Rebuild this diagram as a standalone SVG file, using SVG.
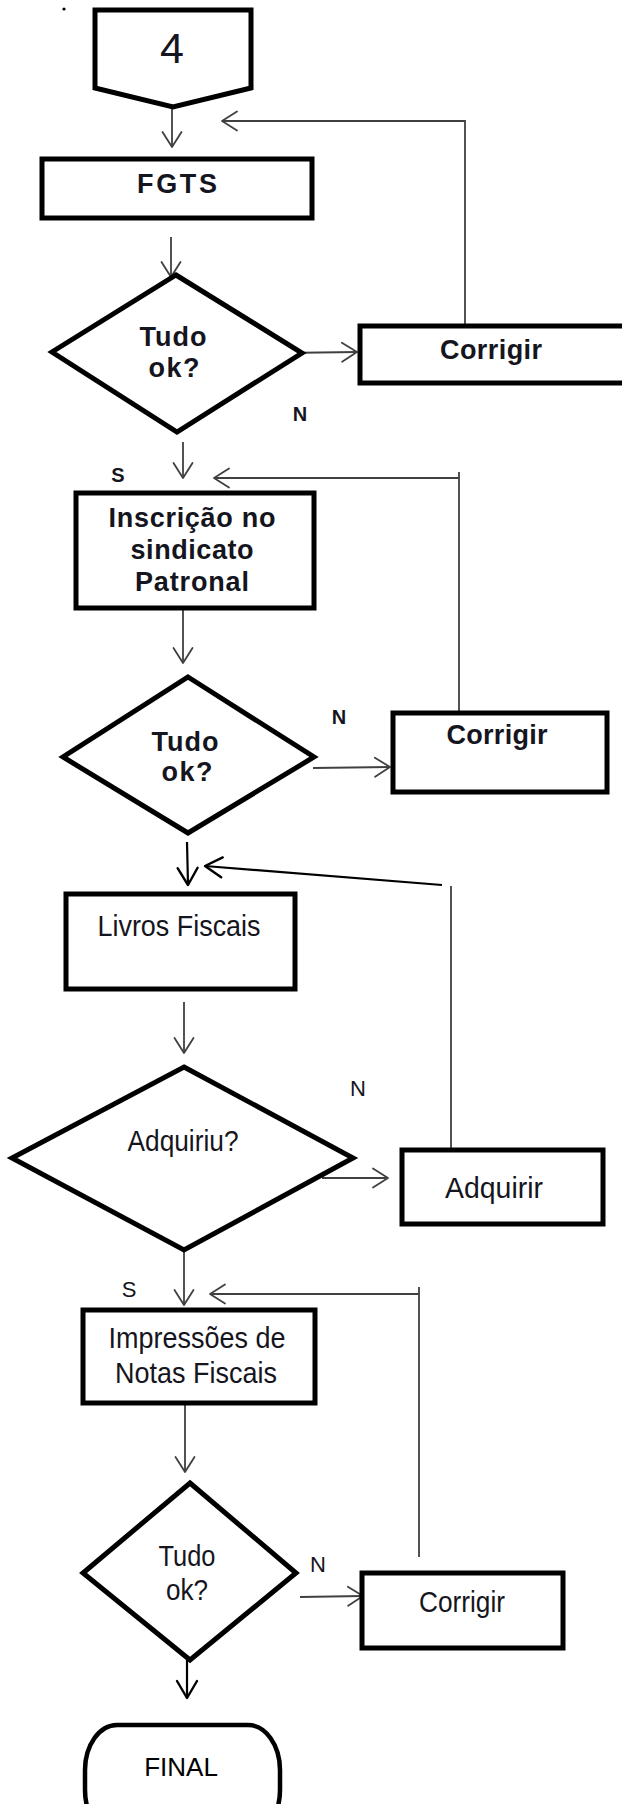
<svg xmlns="http://www.w3.org/2000/svg" width="622" height="1804" viewBox="0 0 622 1804">
<style>
.s{fill:#fff;stroke:#000;stroke-width:5;stroke-linejoin:miter}
.c{fill:none;stroke:#404040;stroke-width:1.8}
.cb{fill:none;stroke:#000;stroke-width:2.2}
.tb{font-family:"Liberation Sans",Arial,sans-serif;font-weight:bold;font-size:27px;fill:#151520;text-anchor:middle}
.tr{font-family:"Liberation Sans",Arial,sans-serif;font-size:30px;fill:#151520;text-anchor:middle}
.lb{font-family:"Liberation Sans",Arial,sans-serif;font-weight:bold;font-size:20px;fill:#151520;text-anchor:middle}
.lr{font-family:"Liberation Sans",Arial,sans-serif;font-size:22px;fill:#151520;text-anchor:middle}
</style>
<defs>
<marker id="ag" markerUnits="userSpaceOnUse" viewBox="-18 -11 20 22" refX="0" refY="0" markerWidth="20" markerHeight="22" orient="auto" overflow="visible">
<path d="M-15,-9.5 L0,0 L-15,9.5" fill="none" stroke="#404040" stroke-width="1.8" stroke-linecap="round" stroke-linejoin="round"/>
</marker>
<marker id="ab" markerUnits="userSpaceOnUse" viewBox="-20 -12 22 24" refX="0" refY="0" markerWidth="22" markerHeight="24" orient="auto" overflow="visible">
<path d="M-17,-10 L0,0 L-17,10" fill="none" stroke="#000" stroke-width="2.4" stroke-linecap="round" stroke-linejoin="round"/>
</marker>
</defs>
<rect width="622" height="1804" fill="#fff"/>
<circle cx="64" cy="9" r="1.6" fill="#000"/>

<g id="connectors">
<path class="c" d="M172,107 V147" marker-end="url(#ag)"/>
<path class="c" d="M171,237 V277" marker-end="url(#ag)"/>
<path class="c" d="M282,353 L357,352" marker-end="url(#ag)"/>
<path class="c" d="M465,326 V121 H222" marker-end="url(#ag)"/>
<path class="c" d="M183,442 V478" marker-end="url(#ag)"/>
<path class="c" d="M459,472 V724"/>
<path class="c" d="M459,478 H214" marker-end="url(#ag)"/>
<path class="c" d="M183,600 V663" marker-end="url(#ag)"/>
<path class="c" d="M313,768 L390,767" marker-end="url(#ag)"/>
<path class="cb" d="M187,842 L188,885" marker-end="url(#ab)"/>
<path class="c" d="M451,886 V1150"/>
<path class="cb" d="M442,885 L205,866" marker-end="url(#ab)"/>
<path class="c" d="M184,1002 V1053" marker-end="url(#ag)"/>
<path class="c" d="M322,1178 H388" marker-end="url(#ag)"/>
<path class="c" d="M184,1250 V1305" marker-end="url(#ag)"/>
<path class="c" d="M419,1287 V1557"/>
<path class="c" d="M419,1294 H210" marker-end="url(#ag)"/>
<path class="c" d="M185,1403 V1472" marker-end="url(#ag)"/>
<path class="c" d="M300,1597 L363,1596" marker-end="url(#ag)"/>
<path class="cb" d="M187,1660 V1698" marker-end="url(#ab)"/>
</g>

<g id="n4">
<path class="s" d="M95,10 H251 V88 L173,107 L95,88 Z"/>
<text x="172" y="63" font-family="'Liberation Sans',Arial,sans-serif" font-size="43" fill="#151520" text-anchor="middle">4</text>
</g>
<g id="fgts">
<rect class="s" x="42" y="159" width="270" height="59"/>
<text class="tb" x="177" y="193" textLength="80">FGTS</text>
</g>
<g id="d1">
<polygon class="s" points="176,275 302,353 177,432 52,352"/>
<text class="tb" x="173" y="346" textLength="67">Tudo</text>
<text class="tb" x="174" y="377" textLength="51">ok?</text>
</g>
<g id="corrigir1">
<rect class="s" x="360" y="326" width="280" height="57"/>
<text class="tb" x="491" y="359" textLength="102">Corrigir</text>
</g>
<g id="inscricao">
<rect class="s" x="76" y="493" width="238" height="115"/>
<text class="tb" x="192" y="527" textLength="167">Inscrição no</text>
<text class="tb" x="192" y="559" textLength="123">sindicato</text>
<text class="tb" x="192" y="591" textLength="114">Patronal</text>
</g>
<g id="d2">
<polygon class="s" points="188,677 314,757 188,833 63,757"/>
<text class="tb" x="185" y="751" textLength="67">Tudo</text>
<text class="tb" x="187" y="781" textLength="51">ok?</text>
</g>
<g id="corrigir2">
<rect class="s" x="393" y="713" width="214" height="79"/>
<text class="tb" x="497" y="744" textLength="101">Corrigir</text>
</g>
<g id="livros">
<rect class="s" x="66" y="894" width="229" height="95"/>
<text class="tr" x="179" y="936" textLength="163" lengthAdjust="spacingAndGlyphs">Livros Fiscais</text>
</g>
<g id="d3">
<polygon class="s" points="184,1067 353,1158 184,1250 12,1158"/>
<text class="tr" x="183" y="1151" textLength="111" lengthAdjust="spacingAndGlyphs">Adquiriu?</text>
</g>
<g id="adquirir">
<rect class="s" x="402" y="1150" width="201" height="74"/>
<text class="tr" x="494" y="1198" font-size="31" textLength="98" lengthAdjust="spacingAndGlyphs">Adquirir</text>
</g>
<g id="impressoes">
<rect class="s" x="83" y="1310" width="232" height="93"/>
<text class="tr" x="197" y="1348" textLength="177" lengthAdjust="spacingAndGlyphs">Impressões de</text>
<text class="tr" x="196" y="1383" textLength="162" lengthAdjust="spacingAndGlyphs">Notas Fiscais</text>
</g>
<g id="d4">
<polygon class="s" points="190,1483 296,1573 190,1660 83,1573"/>
<text class="tr" x="187" y="1566" textLength="57" lengthAdjust="spacingAndGlyphs">Tudo</text>
<text class="tr" x="187" y="1600" textLength="42" lengthAdjust="spacingAndGlyphs">ok?</text>
</g>
<g id="corrigir3">
<rect class="s" x="362" y="1573" width="201" height="75"/>
<text class="tr" x="462" y="1612" textLength="86" lengthAdjust="spacingAndGlyphs">Corrigir</text>
</g>
<g id="final">
<rect x="85" y="1725" width="195" height="110" rx="32" ry="45" fill="#fff" stroke="#000" stroke-width="4.5"/>
<text x="181" y="1776" font-family="'Liberation Sans',Arial,sans-serif" font-size="26" fill="#000" text-anchor="middle">FINAL</text>
</g>
<g id="labels">
<text class="lb" x="300" y="421">N</text>
<text class="lb" x="118" y="482">S</text>
<text class="lb" x="339" y="724">N</text>
<text class="lr" x="358" y="1096">N</text>
<text class="lr" x="129" y="1297">S</text>
<text class="lr" x="318" y="1572">N</text>
</g>
</svg>
